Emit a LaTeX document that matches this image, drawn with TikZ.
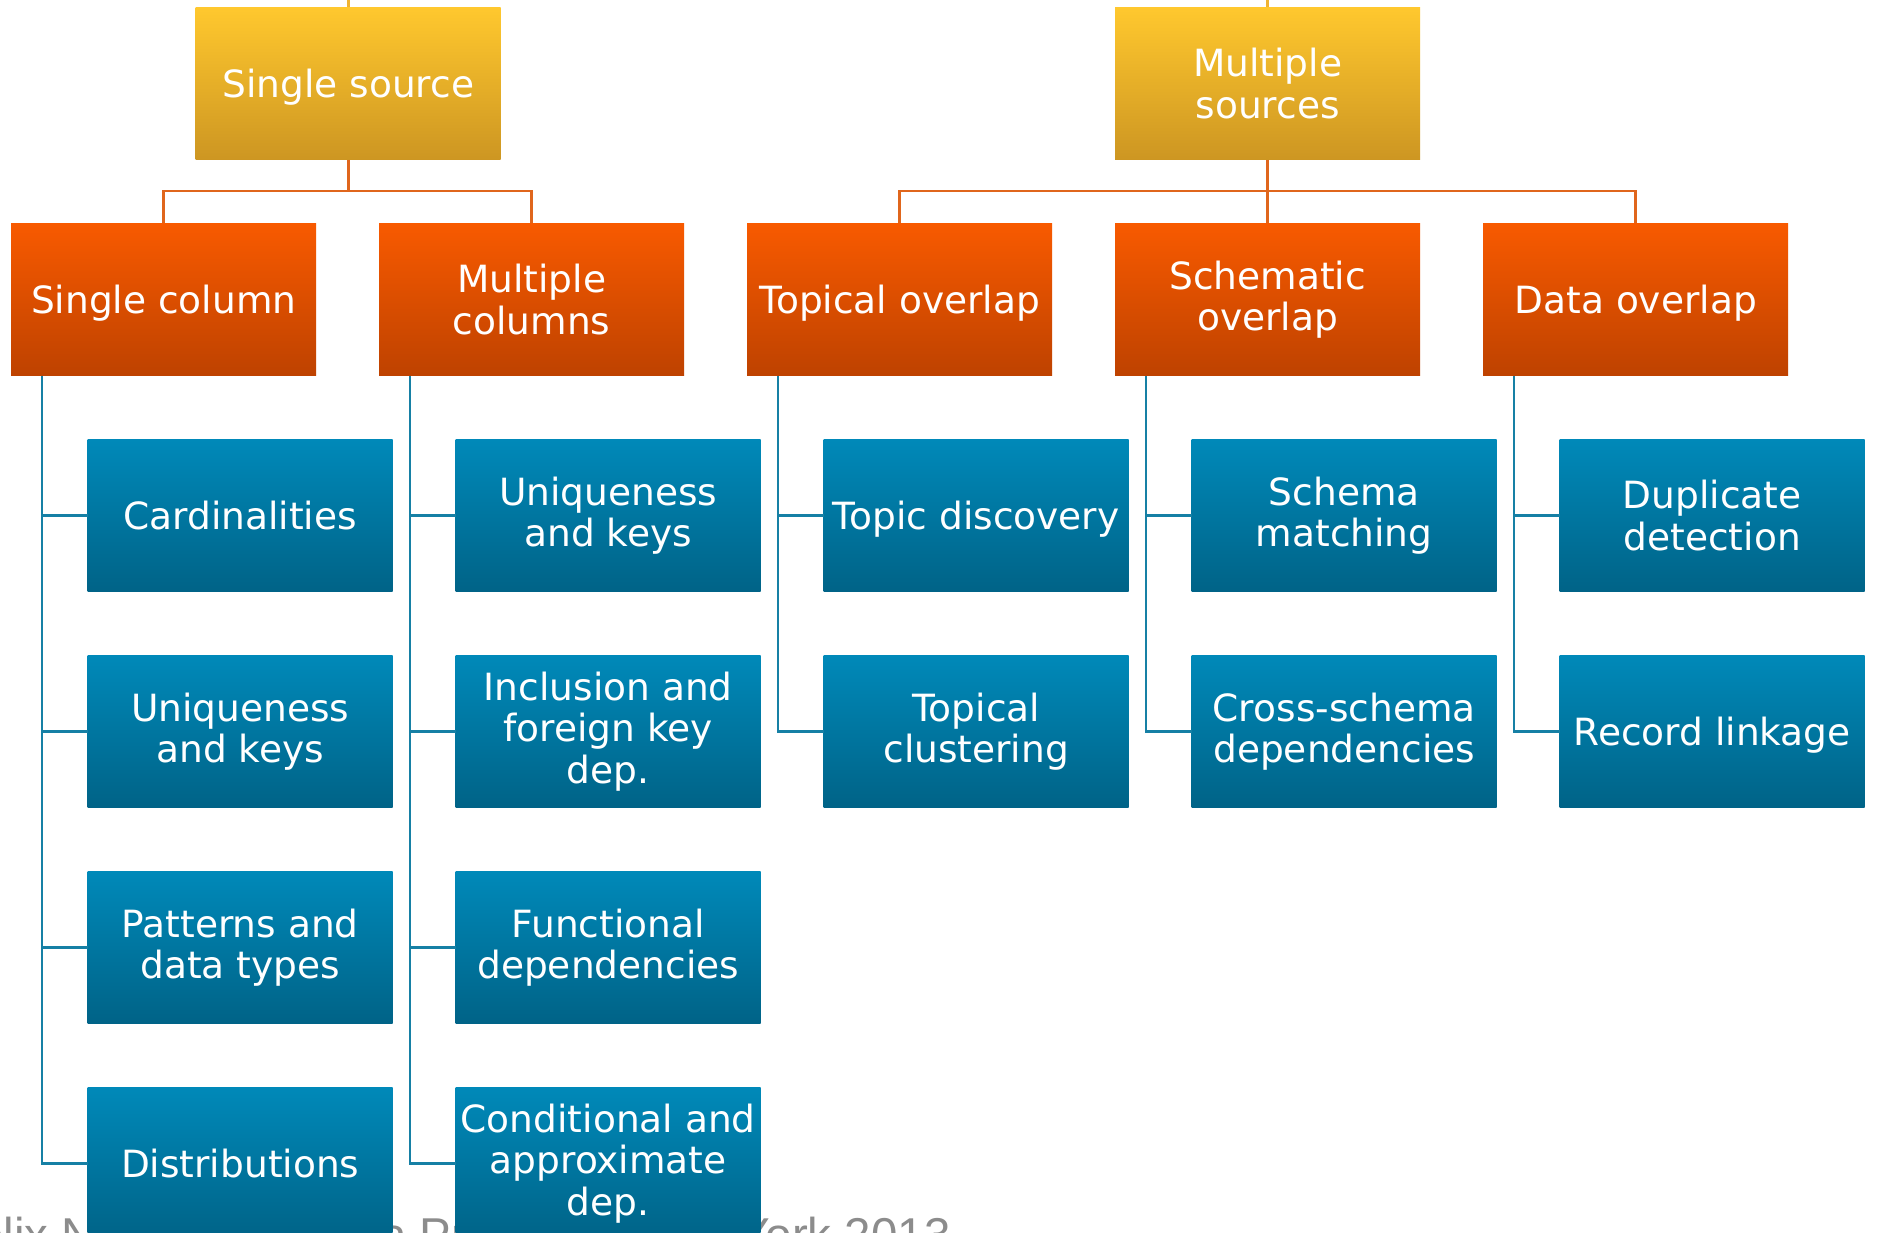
\documentclass[tikz,border=0pt]{standalone}
\usepackage{fontspec}
\setmainfont{DejaVu Sans}
\newfontfamily\footfont{Liberation Sans}
\usetikzlibrary{calc}
\definecolor{ytop}{RGB}{255,200,46}
\definecolor{ybot}{RGB}{205,150,34}
\definecolor{otop}{RGB}{248,90,0}
\definecolor{obot}{RGB}{190,66,0}
\definecolor{btop}{RGB}{0,137,185}
\definecolor{bbot}{RGB}{0,99,135}
\definecolor{olinec}{RGB}{224,102,28}
\definecolor{blinec}{RGB}{22,128,165}
\definecolor{ylinec}{RGB}{240,180,50}
\definecolor{footc}{RGB}{140,140,140}
\newcommand{\oneline}[1]{\raisebox{-14pt}[0pt][0pt]{#1}}
\tikzset{
  box/.style={rectangle, anchor=north west, inner sep=0pt, minimum width=305pt, minimum height=152.5pt,
    text=white, align=center, font=\fontsize{37.5}{41.5}\selectfont},
  ybox/.style={box, top color=ytop, bottom color=ybot},
  obox/.style={box, top color=otop, bottom color=obot},
  bbox/.style={box, top color=btop, bottom color=bbot},
  oline/.style={draw=olinec, line width=2.6pt},
  bline/.style={draw=blinec, line width=2.6pt},
  yline/.style={draw=ylinec, line width=2.6pt},
}
\begin{document}
\begin{tikzpicture}[x=1pt,y=-1pt]
\useasboundingbox[fill=white] (0,0) rectangle (1877,1233);
\node[anchor=base west, text=footc, inner sep=0pt, font=\footfont\fontsize{47.5}{52}\selectfont] (foot) at (-52,1251) {Felix Naumann | Data Profiling | New York 2013};
% level 1
\node[ybox] (ss) at (195.5,7) {\oneline{Single source}};
\node[ybox] (ms) at (1115,7) {Multiple\\sources};
% level 2
\node[obox] (sc) at (11,223) {\oneline{Single column}};
\node[obox] (mc) at (379,223) {Multiple\\columns};
\node[obox] (to) at (747,223) {\oneline{Topical overlap}};
\node[obox] (so) at (1115,223) {Schematic\\overlap};
\node[obox] (do) at (1483,223) {\oneline{Data overlap}};
% level 3
\node[bbox] (sc1) at (87.5,439) {\oneline{Cardinalities}};
\node[bbox] (sc2) at (87.5,655) {Uniqueness\\and keys};
\node[bbox] (sc3) at (87.5,871) {Patterns and\\data types};
\node[bbox] (sc4) at (87.5,1087) {\oneline{Distributions}};
\node[bbox] (mc1) at (455.5,439) {Uniqueness\\and keys};
\node[bbox] (mc2) at (455.5,655) {Inclusion and\\foreign key\\dep.};
\node[bbox] (mc3) at (455.5,871) {Functional\\dependencies};
\node[bbox] (mc4) at (455.5,1087) {Conditional and\\approximate\\dep.};
\node[bbox] (to1) at (823.5,439) {\oneline{Topic discovery}};
\node[bbox] (to2) at (823.5,655) {Topical\\clustering};
\node[bbox] (so1) at (1191.5,439) {Schema\\matching};
\node[bbox] (so2) at (1191.5,655) {Cross-schema\\dependencies};
\node[bbox] (do1) at (1559.5,439) {Duplicate\\detection};
\node[bbox] (do2) at (1559.5,655) {\oneline{Record linkage}};
% top stubs
\coordinate (sstop) at (ss.north |- 0,0);
\coordinate (mstop) at (ms.north |- 0,0);
\draw[yline] (ss.north) -- (sstop);
\draw[yline] (ms.north) -- (mstop);
% orange connectors
\coordinate (ssj) at (ss.south |- 0,191);
\coordinate (msj) at (ms.south |- 0,191);
\draw[oline] (ss.south) -- (ssj);
\draw[oline] (ssj) -| (sc.north);
\draw[oline] (ssj) -| (mc.north);
\draw[oline] (ms.south) -- (so.north);
\draw[oline] (msj) -| (to.north);
\draw[oline] (msj) -| (do.north);
% blue connectors
\foreach \p/\kids in {sc/{sc1,sc2,sc3,sc4}, mc/{mc1,mc2,mc3,mc4}, to/{to1,to2}, so/{so1,so2}, do/{do1,do2}}{
  \coordinate (\p b) at ([xshift=31pt]\p.south west);
  \foreach \k in \kids {
    \draw[bline] (\p b) |- (\k.west);
  }
}
\end{tikzpicture}
\end{document}
